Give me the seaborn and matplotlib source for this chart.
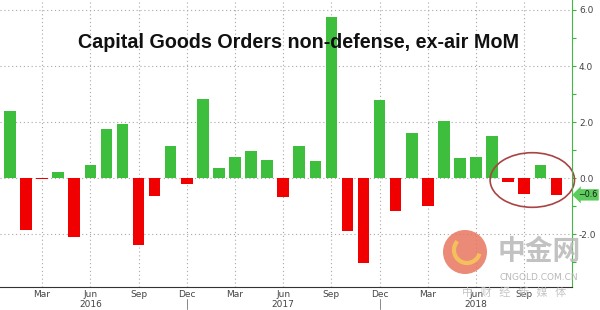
import matplotlib
matplotlib.use("Agg")
import matplotlib.pyplot as plt
import matplotlib.transforms as mtransforms
from matplotlib.patches import Ellipse, Arc
import seaborn as sns
import pandas as pd

# ---- data ----
months = pd.date_range("2016-01-01", periods=35, freq="MS")
values = [2.40, -1.85, -0.03, 0.20, -2.10, 0.47, 1.75, 1.93, -2.40, -0.65,
          1.15, -0.20, 2.83, 0.35, 0.76, 0.97, 0.64, -0.67, 1.15, 0.60,
          5.75, -1.90, -3.04, 2.80, -1.18, 1.62, -1.00, 2.04, 0.70, 0.76,
          1.50, -0.15, -0.57, 0.48, -0.60]
ytick_vals = [-2, 0, 2, 4, 6]
ytick_labels = ["-2.0", "0.0", "2.0", "4.0", "6.0"]
last_label = "\u22120.6"
title = "Capital Goods Orders non-defense, ex-air MoM"

GREEN = "#3dbe3d"
RED = "#f00000"

sns.set_style("white")
plt.rcParams["font.family"] = ["DejaVu Sans", "Noto Sans CJK SC"]

df = pd.DataFrame({
    "idx": range(len(values)),
    "value": values,
    "sign": ["up" if v >= 0 else "down" for v in values],
})

fig = plt.figure(figsize=(6.0, 3.1), dpi=100)
ax = fig.add_axes([0.0, 1 - 287 / 310, 572 / 600, 287 / 310])

sns.barplot(data=df, x="idx", y="value", hue="sign",
            palette={"up": GREEN, "down": RED}, native_scale=True,
            width=0.72, dodge=False, legend=False, saturation=1,
            linewidth=0, ax=ax)

ax.set_xlim(-0.62, 34.97)
ax.set_ylim(-3.89, 6.357)
ax.set_xlabel("")
ax.set_ylabel("")

# x ticks: quarterly labels, monthly minor ticks
major_idx = [i for i, m in enumerate(months) if m.month in (3, 6, 9, 12)]
major_lab = []
for i in major_idx:
    m = months[i]
    lab = m.strftime("%b")
    if m.month == 6:
        lab += "\n" + str(m.year)
    major_lab.append(lab)
ax.set_xticks(major_idx)
ax.set_xticklabels(major_lab, fontsize=6.5, color="#444444", linespacing=1.05)
ax.set_xticks(range(len(months)), minor=True)
ax.tick_params(axis="x", which="both", direction="out", length=2,
               color="#555555", width=0.7, pad=0.5)

# y ticks on the right
ax.yaxis.tick_right()
ax.set_yticks(ytick_vals)
ax.set_yticklabels(ytick_labels, fontsize=6.5, color="#444444")
ax.set_yticks([-3, -1, 1, 3, 5], minor=True)
ax.tick_params(axis="y", which="both", direction="out", length=3,
               color="#3cb43c", width=0.8, pad=2)

# grid
ax.set_axisbelow(True)
ax.grid(True, which="major", axis="both", linestyle=(0, (1, 2.5)),
        color="#a8a8a8", linewidth=0.8)

for s in ("top", "left"):
    ax.spines[s].set_visible(False)
ax.spines["right"].set_color("#44b844")
ax.spines["right"].set_linewidth(0.8)
ax.spines["bottom"].set_color("#333333")
ax.spines["bottom"].set_linewidth(0.8)

# year separators below the Dec labels
bt = mtransforms.blended_transform_factory(ax.transData, fig.transFigure)
for i, m in enumerate(months):
    if m.month == 12:
        ax.plot([i, i], [1 - 299 / 310, 1 - 309 / 310], transform=bt,
                color="#888888", lw=0.7, clip_on=False)

# last value label
yt = mtransforms.blended_transform_factory(ax.transAxes, ax.transData)
ax.text(1.011, values[-1], last_label, transform=yt, fontsize=5.8,
        color="#1a1a1a", va="center", ha="left",
        bbox=dict(boxstyle="larrow,pad=0.15", fc="#5ccc5c", ec="none"))

# highlight ellipse around last four bars
ax.add_patch(Ellipse((32.5, -0.07), 5.25, 1.95, fill=False,
                     ec="#a84444", lw=1.2, clip_on=False))

# title
fig.text(0.498, 1 - 42 / 310, title, ha="center", va="center",
         fontsize=14.2, fontweight="bold", family="Liberation Sans",
         color="#111111")

# watermark
fig.patches.append(Ellipse((465 / 600, 1 - 252 / 310), 44 / 600, 44 / 310,
                           transform=fig.transFigure, fc="#e8765e",
                           ec="none", alpha=0.85, zorder=5))
fig.patches.append(Arc((467 / 600, 1 - 250 / 310), 26 / 600, 26 / 310,
                       theta1=120, theta2=330, transform=fig.transFigure,
                       color="#f6c75a", lw=3, alpha=0.9, zorder=6))
fig.text(539 / 600, 1 - 252 / 310, "中金网", ha="center", va="center",
         fontsize=20, fontweight="bold", color="#b8b8b8", alpha=0.85,
         family=["Noto Sans CJK SC", "DejaVu Sans"], zorder=6)
fig.text(539 / 600, 1 - 277 / 310, "CNGOLD.COM.CN", ha="center",
         va="center", fontsize=6.5, color="#b0b0b0", alpha=0.9, zorder=6)
fig.text(514 / 600, 1 - 293 / 310, "中   财   经   新   媒   体",
         ha="center", va="center", fontsize=8, color="#c0c0c0", alpha=0.9,
         family=["Noto Sans CJK SC", "DejaVu Sans"], zorder=6)

fig.savefig("out.png", dpi=100, facecolor="white")
